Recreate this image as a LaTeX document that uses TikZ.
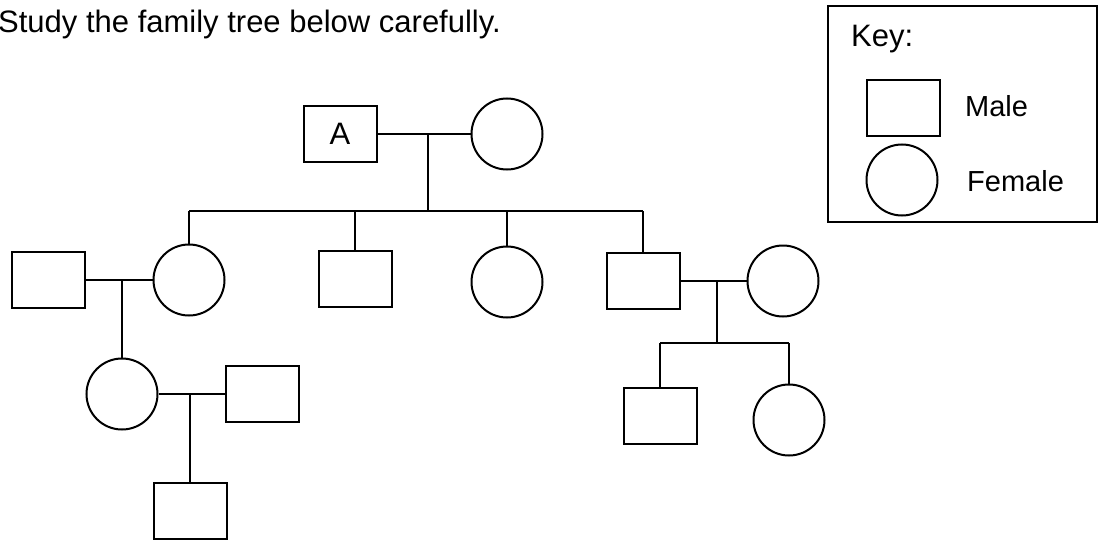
\documentclass[tikz,border=0pt]{standalone}
\usepackage{fontspec}
\setmainfont{Liberation Sans}
\begin{document}
\begin{tikzpicture}[x=1pt,y=-1pt,
  male/.style={draw,rectangle,line width=2pt,minimum width=73pt,minimum height=56pt,inner sep=0pt,font=\fontsize{31}{33}\selectfont},
  female/.style={draw,circle,line width=2pt,minimum size=71pt,inner sep=0pt},
  link/.style={line width=1.9pt},
  lbl/.style={inner sep=0pt,font=\fontsize{29}{31}\selectfont}]
\useasboundingbox (0,0) rectangle (1098,543);
\node[lbl,anchor=base west,font=\fontsize{31}{33}\selectfont] (title) at (-2,33) {Study the family tree below carefully.};
% generation 1
\node[male] (A) at (340,134) {A};
\node[female] (gm) at (507,134) {};
% generation 2
\node[female] (c1) at (189,280) {};
\node[male] (c2) at (355,279) {};
\node[female] (c3) at (507,282) {};
\node[male] (c4) at (643,281) {};
\node[male] (sp1) at (48,280) {};
\node[female] (sp4) at (783,281) {};
% generation 3
\node[female] (gc1) at (122,394) {};
\node[male] (gc1s) at (262,394) {};
\node[male] (gc2) at (660,416) {};
\node[female] (gc3) at (789,420) {};
% generation 4
\node[male] (ggc) at (190,511) {};
% junctions
\coordinate (j1) at (428,134);
\coordinate (s1) at (428,211);
\coordinate (sL) at (189,211);
\coordinate (sR) at (643,211);
\coordinate (j2) at (122,280);
\coordinate (j3) at (190,394);
\coordinate (j4) at (717,281);
\coordinate (k0) at (717,343);
\coordinate (k1) at (660,343);
\coordinate (k2) at (789,343);
% connectors
\draw[link] (A) -- (gm);
\draw[link] (j1) -- (s1);
\draw[link] (sL) -- (sR);
\draw[link] (sL) -- (c1);
\draw[link] (c2.north |- sL) -- (c2.north);
\draw[link] (c3.north |- sL) -- (c3.north);
\draw[link] (sR) -- (c4);
\draw[link] (sp1) -- (c1);
\draw[link] (j2) -- (gc1);
\draw[link] (gc1) -- (gc1s);
\draw[link] (j3) -- (ggc);
\draw[link] (c4) -- (sp4);
\draw[link] (j4) -- (k0);
\draw[link] (k1) -- (k2);
\draw[link] (k1) -- (gc2);
\draw[link] (k2) -- (gc3);
% key
\node[draw,line width=1.8pt,anchor=north west,minimum width=269pt,minimum height=216pt,inner sep=0pt] (key) at (827,5) {};
\node[lbl,anchor=base west,font=\fontsize{31}{33}\selectfont] (keyt) at (851,47) {Key:};
\node[male] (km) at (903,108) {};
\node[female] (kf) at (902,180) {};
\node[lbl,anchor=west] (kml) at (965,106) {Male};
\node[lbl,anchor=west] (kfl) at (967,181) {Female};
\end{tikzpicture}
\end{document}
